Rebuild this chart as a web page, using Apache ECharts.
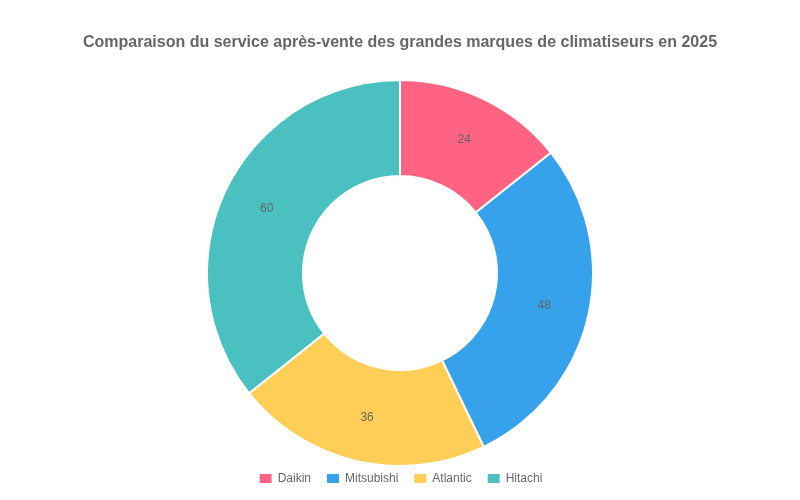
<!DOCTYPE html>
<html>
<head>
<meta charset="UTF-8">
<title>Service après-vente</title>
<script src="https://cdn.jsdelivr.net/npm/echarts@6/dist/echarts.min.js"></script>
<style>
  html, body { margin: 0; padding: 0; background: #fff; }
  #main { width: 800px; height: 500px; }
</style>
</head>
<body>
<div id="main"></div>
<script type="text/javascript">
var brands = ['Daikin', 'Mitsubishi', 'Atlantic', 'Hitachi'];
var scores = [24, 48, 36, 60];
var colors = ['#FF6384', '#36A2EB', '#FFCE56', '#4BC0C0'];

var pieData = brands.map(function (name, i) {
  return { name: name, value: scores[i], itemStyle: { color: colors[i] } };
});

var myChart = echarts.init(document.getElementById('main'));
var option = {
  animation: false,
  title: {
    text: 'Comparaison du service après-vente des grandes marques de climatiseurs en 2025',
    left: 'center',
    top: 30,
    textStyle: {
      fontFamily: 'Liberation Sans',
      fontSize: 16,
      fontWeight: 'bold',
      color: '#666'
    }
  },
  legend: {
    bottom: 10,
    left: 'center',
    icon: 'rect',
    itemWidth: 14,
    itemHeight: 11,
    itemGap: 14,
    textStyle: { fontFamily: 'Liberation Sans', fontSize: 12, color: '#666' },
    data: brands
  },
  series: [{
    type: 'pie',
    center: [400, 273],
    radius: [97, 193],
    startAngle: 90,
    clockwise: true,
    itemStyle: { borderColor: '#fff', borderWidth: 2 },
    label: {
      show: true,
      position: 'inside',
      formatter: '{c}',
      fontFamily: 'Liberation Sans',
      fontSize: 12,
      color: '#666'
    },
    labelLine: { show: false },
    emphasis: { scale: false },
    data: pieData
  }]
};
myChart.setOption(option);
</script>
</body>
</html>
